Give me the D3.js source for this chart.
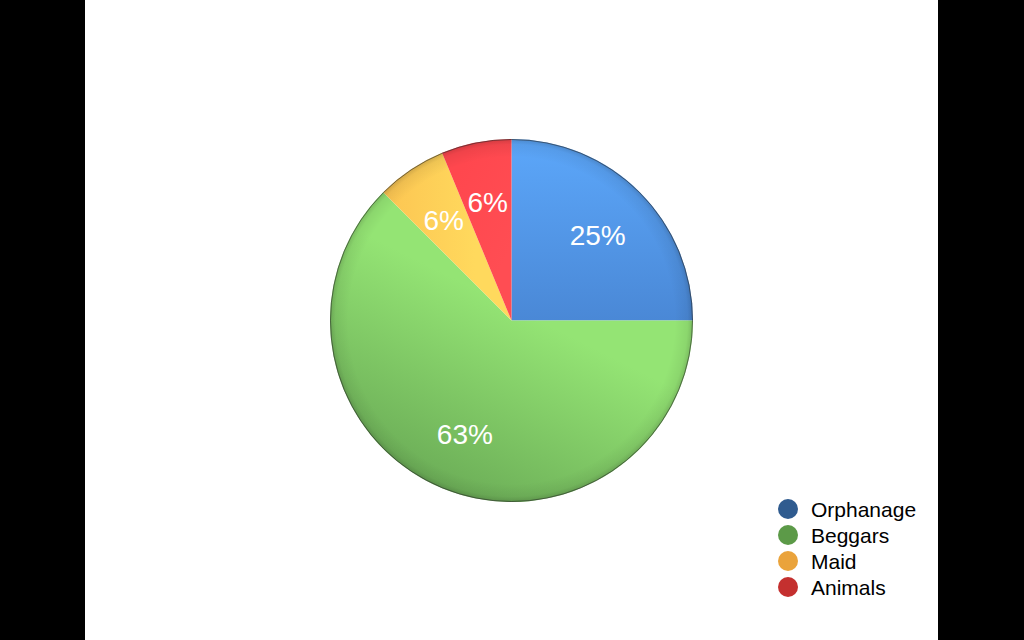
<!DOCTYPE html>
<html>
<head>
<meta charset="utf-8">
<script src="https://cdn.jsdelivr.net/npm/d3@7"></script>
<style>
  html, body { margin: 0; padding: 0; background: #000; }
  svg { display: block; }
</style>
</head>
<body>
<svg id="chart" width="1024" height="640"></svg>
<script>
// ---- data ----
const categories = ["Orphanage", "Beggars", "Maid", "Animals"];
const counts = [4, 10, 1, 1];
const percentLabels = ["25%", "63%", "6%", "6%"];

// ---- style ----
const legendColors = ["#2f5b8f", "#5c9a48", "#eaa33b", "#c4302f"];
const sliceGrad = [
  { c1: "#5ca7fa", c2: "#4a88d6", v: [0, -1, 0, 0] },
  { c1: "#94e474", c2: "#6aab56", v: [0.15, 0, -0.35, 1.0] },
  { c1: "#ffd95d", c2: "#fcc552", v: [-0.2, -0.6, -0.7, -0.6] },
  { c1: "#ff4d53", c2: "#ff474e", v: [0.1, -0.6, -0.3, -0.8] }
];

const svg = d3.select("#chart");
const W = 1024, H = 640;

svg.append("rect").attr("x", 0).attr("y", 0).attr("width", W).attr("height", H).attr("fill", "#000");
svg.append("rect").attr("x", 85).attr("y", 0).attr("width", 938 - 85).attr("height", H).attr("fill", "#fff");

const cx = 511.5, cy = 320.5, r = 181.5;
const defs = svg.append("defs");

sliceGrad.forEach((g, i) => {
  const lg = defs.append("linearGradient")
    .attr("id", "g" + i)
    .attr("gradientUnits", "userSpaceOnUse")
    .attr("x1", g.v[0] * r).attr("y1", g.v[1] * r)
    .attr("x2", g.v[2] * r).attr("y2", g.v[3] * r);
  lg.append("stop").attr("offset", "0%").attr("stop-color", g.c1);
  lg.append("stop").attr("offset", "100%").attr("stop-color", g.c2);
});

const rim = defs.append("radialGradient")
  .attr("id", "rim")
  .attr("gradientUnits", "userSpaceOnUse")
  .attr("cx", 0).attr("cy", 0).attr("r", r);
rim.append("stop").attr("offset", "0%").attr("stop-color", "#000").attr("stop-opacity", 0);
rim.append("stop").attr("offset", "90%").attr("stop-color", "#000").attr("stop-opacity", 0);
rim.append("stop").attr("offset", "97%").attr("stop-color", "#000").attr("stop-opacity", 0.06);
rim.append("stop").attr("offset", "100%").attr("stop-color", "#000").attr("stop-opacity", 0.18);

const g = svg.append("g").attr("transform", `translate(${cx},${cy})`);

const pie = d3.pie().sort(null).value(d => d)(counts);
const arc = d3.arc().innerRadius(0).outerRadius(r);
const labelArc = d3.arc().innerRadius(r * 0.672).outerRadius(r * 0.672);

g.selectAll("path.slice")
  .data(pie)
  .join("path")
  .attr("class", "slice")
  .attr("d", arc)
  .attr("fill", (d, i) => `url(#g${i})`);

g.append("circle").attr("r", r).attr("fill", "url(#rim)");
g.append("circle").attr("r", r - 0.5).attr("fill", "none")
  .attr("stroke", "rgba(40,40,40,0.55)").attr("stroke-width", 1);

g.selectAll("text.pct")
  .data(pie)
  .join("text")
  .attr("class", "pct")
  .attr("transform", d => { const c = labelArc.centroid(d); return `translate(${c[0]},${c[1] + 1.5})`; })
  .attr("text-anchor", "middle")
  .attr("dominant-baseline", "central")
  .attr("fill", "#fff")
  .attr("font-family", "Liberation Sans, Arial, Helvetica, sans-serif")
  .attr("font-size", 28)
  .text((d, i) => percentLabels[i]);

// legend
const legend = svg.append("g").attr("transform", "translate(788,509)");
const rowH = 26;
const items = legend.selectAll("g.item")
  .data(categories)
  .join("g")
  .attr("class", "item")
  .attr("transform", (d, i) => `translate(0,${i * rowH})`);
items.append("circle").attr("r", 10).attr("fill", (d, i) => legendColors[i]);
items.append("text")
  .attr("x", 23)
  .attr("dominant-baseline", "central")
  .attr("font-family", "Liberation Sans, Arial, Helvetica, sans-serif")
  .attr("font-size", 21)
  .attr("fill", "#000")
  .text(d => d);
</script>
</body>
</html>
